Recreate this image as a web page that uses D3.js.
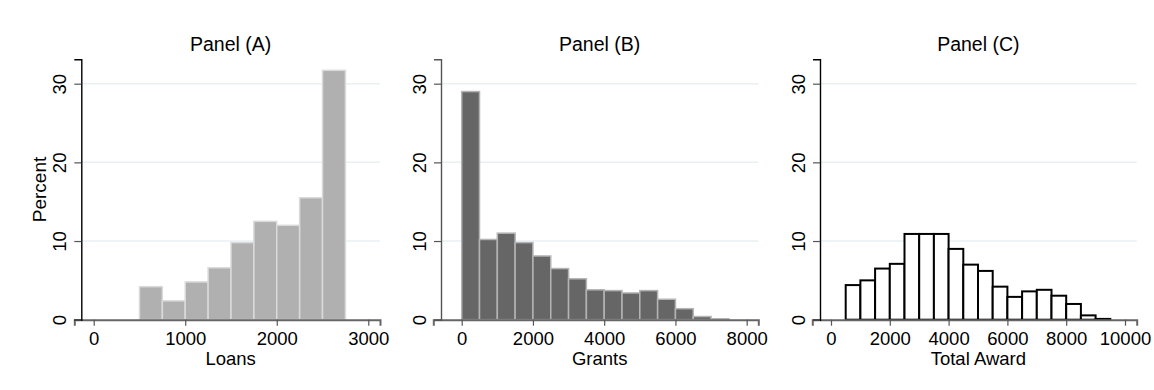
<!DOCTYPE html>
<html>
<head>
<meta charset="utf-8">
<script src="https://cdn.jsdelivr.net/npm/d3@7"></script>
<style>
  body { margin: 0; background: #fff; }
  svg { display: block; }
  text { font-family: "Liberation Sans", Arial, Helvetica, sans-serif; fill: #000; }
</style>
</head>
<body>
<div id="chart"></div>
<script>
// histogram data (percent per bin)
var loanStart = 500, loanWidth = 250;
var loanPct = [4.2, 2.4, 4.8, 6.6, 9.8, 12.5, 12.0, 15.5, 31.7];

var grantStart = 0, grantWidth = 500;
var grantPct = [29.0, 10.2, 11.0, 9.8, 8.1, 6.5, 5.2, 3.8, 3.7, 3.4, 3.7, 2.6, 1.4, 0.4, 0.12];

var totalStart = 500, totalWidth = 500;
var totalPct = [4.4, 5.0, 6.5, 7.1, 10.9, 10.9, 10.9, 9.0, 7.0, 6.2, 4.2, 2.9, 3.6, 3.8, 3.05, 2.0, 0.55, 0.1];

var yTicks = [0, 10, 20, 30];
var loanTicks = [0, 1000, 2000, 3000];
var grantTicks = [0, 2000, 4000, 6000, 8000];
var totalTicks = [0, 2000, 4000, 6000, 8000, 10000];

var titles = ["Panel (A)", "Panel (B)", "Panel (C)"];
var xTitles = ["Loans", "Grants", "Total Award"];

function bins(start, width, vals) {
    return vals.map(function (v, i) { return { x0: start + i * width, x1: start + (i + 1) * width, v: v }; });
}

var panels = [
    { title: titles[0], xlab: xTitles[0], data: bins(loanStart, loanWidth, loanPct), ticks: loanTicks,
      dom: [-212, 3128], px: [74.3, 380], yAxisX: 81.3, fill: "#b0b0b0", stroke: "#dadada", sw: 1.5, ycol: "#000", ylab: "Percent" },
    { title: titles[1], xlab: xTitles[1], data: bins(grantStart, grantWidth, grantPct), ticks: grantTicks,
      dom: [-797, 8326], px: [433.3, 758.3], yAxisX: 441, fill: "#666666", stroke: "#b4b4b4", sw: 1.5, ycol: "#555" },
    { title: titles[2], xlab: xTitles[2], data: bins(totalStart, totalWidth, totalPct), ticks: totalTicks,
      dom: [-636, 10398], px: [812.3, 1136.7], yAxisX: 820, fill: "#ffffff", stroke: "#000", sw: 2, ycol: "#000" }
];

var width = 1154, height = 390;
var svg = d3.select("#chart").append("svg")
    .attr("width", width)
    .attr("height", height);

var yScale = d3.scaleLinear().domain([0, 33.1]).range([319.7, 59.3]);

panels.forEach(function (p) {
    var x = d3.scaleLinear().domain(p.dom).range(p.px);
    var g = svg.append("g");

    // gridlines
    g.selectAll(".grid").data(yTicks.filter(function (t) { return t > 0; }))
        .enter().append("line")
        .attr("x1", p.yAxisX).attr("x2", p.px[1])
        .attr("y1", function (d) { return yScale(d); })
        .attr("y2", function (d) { return yScale(d); })
        .attr("stroke", "#e8f0f2").attr("stroke-width", 1.5);

    // bars
    g.selectAll("rect").data(p.data).enter().append("rect")
        .attr("x", function (d) { return x(d.x0); })
        .attr("width", function (d) { return x(d.x1) - x(d.x0); })
        .attr("y", function (d) { return yScale(d.v); })
        .attr("height", function (d) { return yScale(0) - yScale(d.v); })
        .attr("fill", p.fill)
        .attr("stroke", p.stroke)
        .attr("stroke-width", p.sw);

    // x axis
    var xa = g.append("g")
        .attr("transform", "translate(0," + yScale(0) + ")")
        .call(d3.axisBottom(x).tickValues(p.ticks).tickFormat(d3.format("d"))
            .tickSizeOuter(0).tickSize(6).tickPadding(6));
    xa.select(".domain").attr("stroke", "#666").attr("stroke-width", 2);
    xa.selectAll(".tick line").attr("stroke", "#555").attr("stroke-width", 1.2);
    xa.selectAll(".tick text").attr("font-size", 18.5).attr("fill", "#000")
        .style("font-family", "'Liberation Sans', Arial, sans-serif");

    // y axis
    var ya = g.append("g")
        .attr("transform", "translate(" + p.yAxisX + ",0)")
        .call(d3.axisLeft(yScale).tickValues(yTicks).tickFormat(d3.format("d"))
            .tickSizeOuter(0).tickSize(7));
    ya.select(".domain").attr("stroke", p.ycol).attr("stroke-width", 1.4);
    ya.selectAll(".tick line").attr("stroke", "#555").attr("stroke-width", 1.2);
    ya.selectAll(".tick text")
        .attr("x", null).attr("dy", null)
        .attr("text-anchor", "middle")
        .attr("transform", "translate(-15,0) rotate(-90)")
        .attr("font-size", 18.5).attr("fill", "#000")
        .style("font-family", "'Liberation Sans', Arial, sans-serif");

    var cx = (p.yAxisX + p.px[1]) / 2;

    g.append("text")
        .attr("x", cx).attr("y", 51)
        .attr("text-anchor", "middle")
        .attr("font-size", 19.5)
        .text(p.title);

    g.append("text")
        .attr("x", cx).attr("y", 365)
        .attr("text-anchor", "middle")
        .attr("font-size", 18.5)
        .text(p.xlab);

    if (p.ylab) {
        g.append("text")
            .attr("transform", "translate(46," + (yScale(0) + yScale(33.1)) / 2 + ") rotate(-90)")
            .attr("text-anchor", "middle")
            .attr("font-size", 19)
            .text(p.ylab);
    }
});
</script>
</body>
</html>
